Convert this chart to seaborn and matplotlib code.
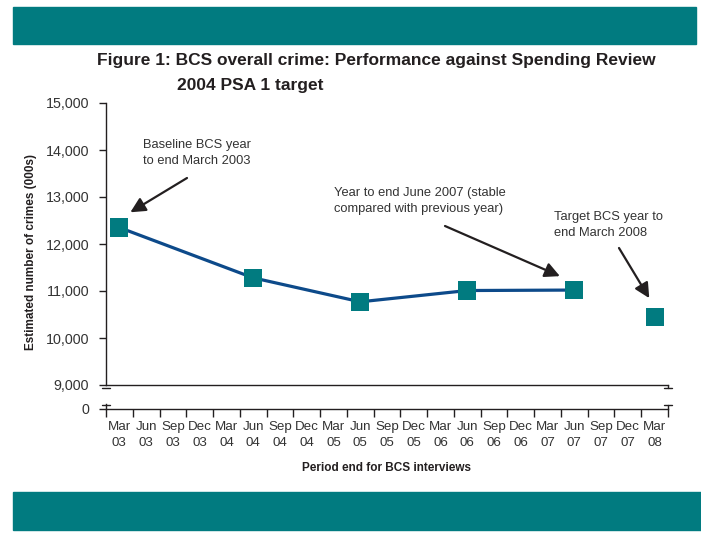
import matplotlib
matplotlib.use("Agg")
import matplotlib.pyplot as plt
from matplotlib.patches import Rectangle
from matplotlib.lines import Line2D
import seaborn as sns
import pandas as pd
import numpy as np

# ---- data ----
periods = ["Mar\n03", "Jun\n03", "Sep\n03", "Dec\n03",
           "Mar\n04", "Jun\n04", "Sep\n04", "Dec\n04",
           "Mar\n05", "Jun\n05", "Sep\n05", "Dec\n05",
           "Mar\n06", "Jun\n06", "Sep\n06", "Dec\n06",
           "Mar\n07", "Jun\n07", "Sep\n07", "Dec\n07",
           "Mar\n08"]
actual_periods = ["Mar\n03", "Jun\n04", "Jun\n05", "Jun\n06", "Jun\n07"]
actual_values = [12350, 11280, 10770, 11010, 11020]
target_periods = ["Mar\n08"]
target_values = [10450]
y_ticks = [9000, 10000, 11000, 12000, 13000, 14000, 15000]

title_line1 = "Figure 1: BCS overall crime: Performance against Spending Review"
title_line2 = "2004 PSA 1 target"
ylabel = "Estimated number of crimes (000s)"
xlabel = "Period end for BCS interviews"

sns.set_style("white")
plt.rcParams["font.family"] = ["Liberation Sans", "DejaVu Sans"]

TEAL = "#017b80"
LINE = "#0d4a8a"
DARK = "#231f20"

W, H = 701, 533
fig = plt.figure(figsize=(W / 100, H / 100), dpi=100)

def fx(px):
    return px / W

def fy(py):
    return 1 - py / H

# teal bands
fig.patches.append(Rectangle((fx(13), fy(44)), fx(696) - fx(13), fy(7) - fy(44),
                             transform=fig.transFigure, color=TEAL, zorder=0))
fig.patches.append(Rectangle((fx(13), fy(530)), fx(701) - fx(13), fy(492) - fy(530),
                             transform=fig.transFigure, color=TEAL, zorder=0))

# title
fig.text(fx(97), fy(60), title_line1, fontsize=12.5, fontweight="bold",
         color=DARK, va="center", ha="left")
fig.text(fx(177), fy(85), title_line2, fontsize=12.5, fontweight="bold",
         color=DARK, va="center", ha="left")

ax_left, ax_right = 106, 668
ax = fig.add_axes([fx(ax_left), fy(385), fx(ax_right) - fx(ax_left), fy(103) - fy(385)])
axb = fig.add_axes([fx(ax_left), fy(409), fx(ax_right) - fx(ax_left), fy(399) - fy(409)])

pos = {p: i for i, p in enumerate(periods)}
df_a = pd.DataFrame({"x": [pos[p] for p in actual_periods], "y": actual_values})
df_t = pd.DataFrame({"x": [pos[p] for p in target_periods], "y": target_values})

sns.lineplot(data=df_a, x="x", y="y", ax=ax, color=LINE, linewidth=2.3, zorder=3)
sns.scatterplot(data=df_a, x="x", y="y", ax=ax, color=TEAL, marker="s", s=170,
                edgecolor="none", linewidth=0, zorder=4)
sns.scatterplot(data=df_t, x="x", y="y", ax=ax, color=TEAL, marker="s", s=170,
                edgecolor="none", linewidth=0, zorder=4)

n = len(periods)
for a in (ax, axb):
    a.set_xlim(-0.5, n - 0.5)
    a.set_facecolor("none")
    for s in ("top", "right"):
        a.spines[s].set_visible(False)
    for s in ("left", "bottom"):
        a.spines[s].set_color(DARK)
        a.spines[s].set_linewidth(1.0)

ax.set_ylim(9000, 15000)
ax.set_yticks(y_ticks)
ax.set_yticklabels([f"{v:,}" for v in y_ticks], fontsize=10.3, color="#333333")
ax.tick_params(axis="y", direction="out", length=5, width=1, color=DARK, pad=7, left=True)
ax.set_xticks([])
ax.set_xlabel("")
ax.set_ylabel(ylabel, fontsize=8.5, fontweight="bold", color=DARK)
ax.yaxis.set_label_coords(-0.123, 0.47)

axb.set_ylim(0, 1)
axb.set_yticks([0])
axb.set_yticklabels(["0"], fontsize=10.3, color="#333333")
axb.tick_params(axis="y", direction="out", length=5, width=1, color=DARK, pad=7, left=True)
axb.set_xticks(np.arange(-0.5, n, 1.0))
axb.set_xticklabels([])
axb.set_xticks(np.arange(0, n, 1.0), minor=True)
axb.set_xticklabels(periods, minor=True, fontsize=9.6, color="#333333", linespacing=1.52)
axb.tick_params(axis="x", which="major", direction="out", length=6, width=1, color=DARK, bottom=True)
axb.tick_params(axis="x", which="minor", length=0, pad=8.5)
axb.spines["left"].set_bounds(0, 0.55)
axb.set_xlabel(xlabel, fontsize=8.5, fontweight="bold", color=DARK, labelpad=9)
axb.set_ylabel("")

# break marks
for px in (ax_left, ax_right):
    for py in (388, 405):
        fig.add_artist(Line2D([fx(px - 4), fx(px + 4)], [fy(py), fy(py)],
                              transform=fig.transFigure, color=DARK, lw=1.0))
fig.add_artist(Line2D([fx(ax_right), fx(ax_right)], [fy(405), fy(409)],
                      transform=fig.transFigure, color=DARK, lw=1.0))
fig.add_artist(Line2D([fx(ax_right), fx(ax_right)], [fy(385), fy(388)],
                      transform=fig.transFigure, color=DARK, lw=1.0))

# annotations
ann_kw = dict(fontsize=9.3, color="#333333", ha="left", va="top", linespacing=1.45)
fig.text(fx(143), fy(139), "Baseline BCS year\nto end March 2003", **ann_kw)
fig.text(fx(334), fy(187), "Year to end June 2007 (stable\ncompared with previous year)", **ann_kw)
fig.text(fx(554), fy(211), "Target BCS year to\nend March 2008", **ann_kw)

arrow_kw = dict(arrowstyle="-|>,head_length=0.9,head_width=0.45", color=DARK, lw=1.6,
                shrinkA=0, shrinkB=0)
ax.annotate("", xy=(0.41, 12675), xytext=(187, H - 178), textcoords="figure pixels",
            arrowprops=arrow_kw)
ax.annotate("", xy=(16.46, 11316), xytext=(445, H - 226), textcoords="figure pixels",
            arrowprops=arrow_kw)
ax.annotate("", xy=(19.8, 10848), xytext=(619, H - 248), textcoords="figure pixels",
            arrowprops=arrow_kw)

fig.savefig("out.png", dpi=100)
